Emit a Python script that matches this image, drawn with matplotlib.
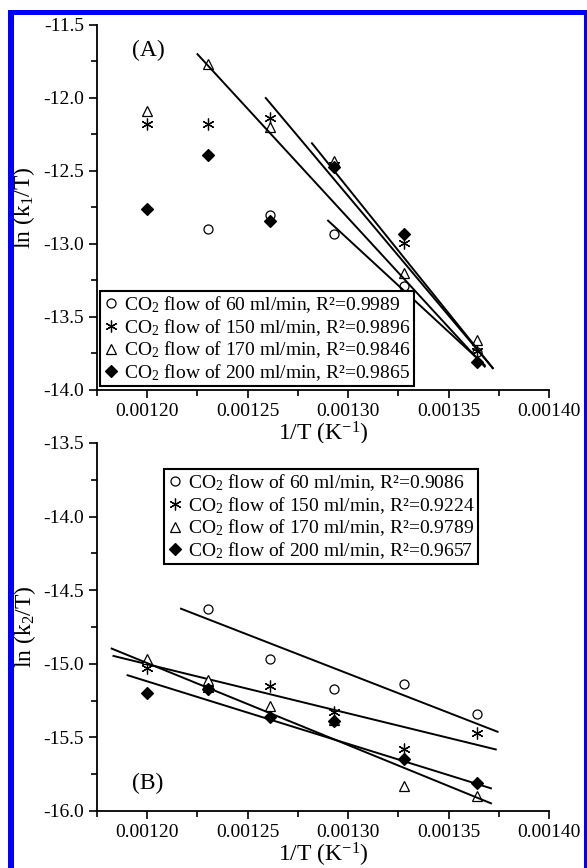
import numpy as np
import matplotlib
matplotlib.use('Agg')
import matplotlib.pyplot as plt
from matplotlib.patches import Rectangle
from matplotlib.ticker import MultipleLocator, FormatStrFormatter

plt.rcParams['font.family'] = ['Liberation Serif', 'DejaVu Serif']
plt.rcParams['mathtext.fontset'] = 'custom'
plt.rcParams['mathtext.rm'] = 'Liberation Serif'
plt.rcParams['mathtext.it'] = 'Liberation Serif:italic'
plt.rcParams['axes.unicode_minus'] = False

# 1/T values (K^-1)
inv_T = [0.00120, 0.00123, 0.001261, 0.001293, 0.001328, 0.001364]

flows = ['60', '150', '170', '200']
r2_A = ['0.9989', '0.9896', '0.9846', '0.9865']
r2_B = ['0.9086', '0.9224', '0.9789', '0.9657']

# panel A: ln(k1/T)
k1_60 = [np.nan, -12.90, -12.80, -12.93, -13.29, -13.74]
k1_150 = [-12.18, -12.18, -12.14, -12.46, -12.99, -13.73]
k1_170 = [-12.09, -11.77, -12.20, -12.43, -13.20, -13.66]
k1_200 = [-12.76, -12.39, -12.84, -12.47, -12.93, -13.81]

# panel B: ln(k2/T)
k2_60 = [np.nan, -14.63, -14.97, -15.17, -15.14, -15.34]
k2_150 = [-15.03, -15.17, -15.15, -15.33, -15.58, -15.47]
k2_170 = [-14.97, -15.11, -15.29, -15.38, -15.83, -15.90]
k2_200 = [-15.20, -15.17, -15.36, -15.39, -15.65, -15.81]

# fitted lines, start/end points
fitA_x = [[0.001290, 0.001368], [0.001259, 0.001372], [0.001225, 0.001368], [0.001282, 0.001372]]
fitA_y = [[-12.84, -13.83], [-12.00, -13.85], [-11.70, -13.84], [-12.31, -13.85]]
fitB_x = [[0.0012168, 0.0013744], [0.0011832, 0.0013735], [0.0011823, 0.0013711], [0.0011902, 0.0013711]]
fitB_y = [[-14.626, -15.462], [-14.947, -15.582], [-14.897, -15.948], [-15.078, -15.846]]

markers = [
    dict(marker='o', mfc='white', mec='black', ms=6.5, mew=0.9),
    dict(marker=(6, 2, 0), mfc='black', mec='black', ms=8.5, mew=0.9),
    dict(marker='^', mfc='white', mec='black', ms=7, mew=0.9),
    dict(marker='D', mfc='black', mec='black', ms=6, mew=0.9),
]

fig = plt.figure(figsize=(5.87, 8.68), dpi=100)
axA = fig.add_axes([0.1653, 0.5507, 0.770, 0.4205])
axB = fig.add_axes([0.1653, 0.0657, 0.770, 0.4240])


def draw_panel(ax, series, fx, fy, r2, ylabel, ylim, letter, letter_y, leg_loc, leg_anchor):
    for i, ys in enumerate(series):
        ax.plot(inv_T, ys, ls='none', label='CO$_2$ flow of %s ml/min, R\u00b2=%s' % (flows[i], r2[i]),
                **markers[i])
        ax.plot(fx[i], fy[i], color='black', lw=1.4)
    ax.set_xlim(0.001175, 0.00140)
    ax.set_ylim(*ylim)
    ax.xaxis.set_major_locator(MultipleLocator(0.00005))
    ax.xaxis.set_minor_locator(MultipleLocator(0.000025))
    ax.yaxis.set_major_locator(MultipleLocator(0.5))
    ax.yaxis.set_minor_locator(MultipleLocator(0.25))
    ax.xaxis.set_major_formatter(FormatStrFormatter('%.5f'))
    ax.yaxis.set_major_formatter(FormatStrFormatter('%.1f'))
    ax.tick_params(which='major', direction='out', length=6, width=1.2, labelsize=14)
    ax.tick_params(which='minor', direction='out', length=4, width=1.2)
    ax.spines['top'].set_visible(False)
    ax.spines['right'].set_visible(False)
    ax.spines['left'].set_linewidth(1.3)
    ax.spines['bottom'].set_linewidth(1.3)
    ax.set_xlabel('1/T (K$^{\\mathregular{-1}}$)', fontsize=17, labelpad=0)
    ax.set_ylabel(ylabel, fontsize=17, labelpad=4)
    ax.text(0.113, letter_y, letter, transform=ax.transAxes, fontsize=17, ha='center', va='center')
    leg = ax.legend(loc=leg_loc, bbox_to_anchor=leg_anchor, borderaxespad=0, fontsize=14,
                    frameon=True, fancybox=False, edgecolor='black', framealpha=1,
                    handlelength=0.8, handletextpad=0.3, borderpad=0.15, labelspacing=0.1)
    leg.get_frame().set_linewidth(1.5)


draw_panel(axA, [k1_60, k1_150, k1_170, k1_200], fitA_x, fitA_y, r2_A,
           'ln (k$_1$/T)', (-14.0, -11.5), '(A)', 0.93, 'lower left', (0.0066, 0.011))
draw_panel(axB, [k2_60, k2_150, k2_170, k2_200], fitB_x, fitB_y, r2_B,
           'ln (k$_2$/T)', (-16.0, -13.5), '(B)', 0.076, 'upper left', (0.148, 0.929))

# blue frame around the figure
W, H = 587.0, 868.0
fig.add_artist(Rectangle((8 / W, 0), 6 / W, 1 - 10 / H, transform=fig.transFigure, color='#0000ff', lw=0))
fig.add_artist(Rectangle((8 / W, 1 - 15 / H), 1 - 8 / W, 5 / H, transform=fig.transFigure, color='#0000ff', lw=0))
fig.add_artist(Rectangle((584 / W, 0), 3 / W, 1 - 10 / H, transform=fig.transFigure, color='#0000ff', lw=0))

fig.savefig('out.png', dpi=100)
